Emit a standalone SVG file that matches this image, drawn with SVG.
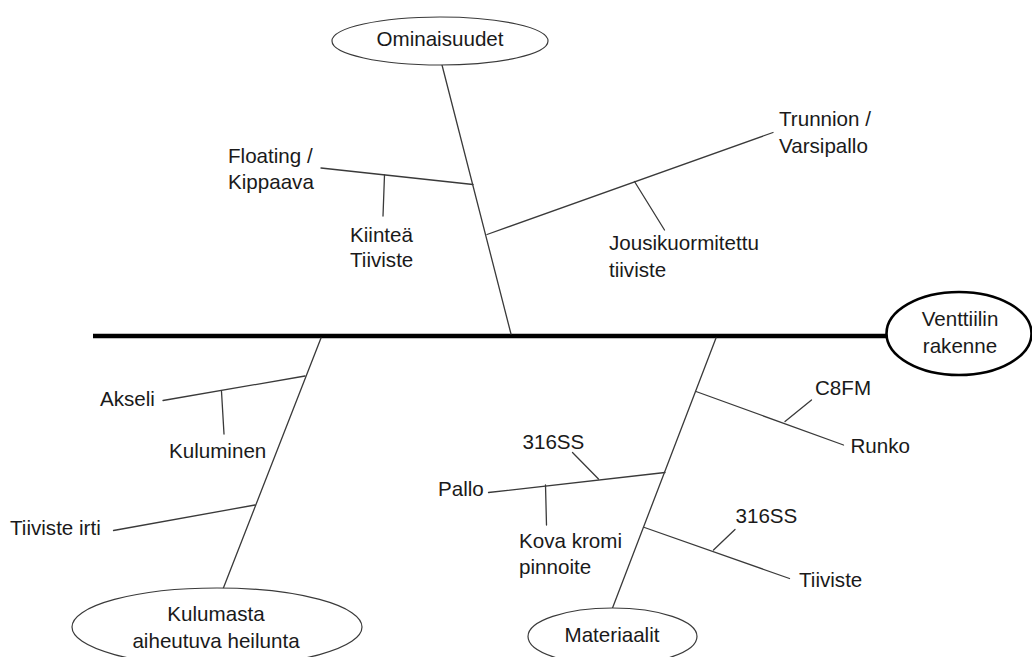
<svg xmlns="http://www.w3.org/2000/svg" width="1032" height="657" viewBox="0 0 1032 657">
<style>
.t{font-family:"Liberation Sans",Arial,sans-serif;font-size:20.6px;fill:#1a1a1a}
.c{text-anchor:middle}
.ln{stroke:#3a3a3a;stroke-width:1.3;fill:none;stroke-linecap:round}
.el{fill:#fff;stroke:#3a3a3a;stroke-width:1.2}
</style>
<rect width="1032" height="657" fill="#fff"/>
<g id="connectors">
<line x1="93" y1="336" x2="888" y2="336" stroke="#000" stroke-width="4.5"/>
<line class="ln" x1="442" y1="65" x2="511" y2="334"/>
<line class="ln" x1="321" y1="168" x2="473" y2="184.5"/>
<line class="ln" x1="384.5" y1="175" x2="383" y2="216"/>
<line class="ln" x1="487" y1="234.5" x2="773" y2="132.5"/>
<line class="ln" x1="634.5" y1="181.5" x2="664.5" y2="230"/>
<line class="ln" x1="321" y1="338" x2="223" y2="589"/>
<line class="ln" x1="163" y1="400.5" x2="305" y2="376"/>
<line class="ln" x1="221.5" y1="391.5" x2="224" y2="434"/>
<line class="ln" x1="113.5" y1="530.5" x2="255" y2="505"/>
<line class="ln" x1="716" y1="338" x2="612.5" y2="608"/>
<line class="ln" x1="696" y1="391.5" x2="843.5" y2="445"/>
<line class="ln" x1="785" y1="421.5" x2="811.5" y2="400"/>
<line class="ln" x1="488.5" y1="492.5" x2="665" y2="472.5"/>
<line class="ln" x1="598.5" y1="479" x2="572.5" y2="452.5"/>
<line class="ln" x1="545.5" y1="485" x2="546.5" y2="525"/>
<line class="ln" x1="644.5" y1="527.5" x2="789.5" y2="578.5"/>
<line class="ln" x1="713.5" y1="550" x2="735" y2="529.5"/>
</g>
<g id="ominaisuudet">
<ellipse class="el" cx="440" cy="41" rx="108" ry="24"/>
<text class="t c" x="440" y="46">Ominaisuudet</text>
</g>
<g id="venttiilin-rakenne">
<ellipse cx="959" cy="333.5" rx="72.5" ry="41.5" fill="#fff" stroke="#000" stroke-width="2.6"/>
<text class="t c" x="960" y="326">Venttiilin</text>
<text class="t c" x="960" y="353">rakenne</text>
</g>
<g id="kulumasta">
<ellipse class="el" cx="217" cy="627" rx="145" ry="39"/>
<text class="t c" x="216" y="621">Kulumasta</text>
<text class="t c" x="216" y="648">aiheutuva heilunta</text>
</g>
<g id="materiaalit">
<ellipse class="el" cx="612.5" cy="636.5" rx="84.5" ry="28.5"/>
<text class="t c" x="612" y="641.5">Materiaalit</text>
</g>
<g id="floating"><text class="t" x="228" y="163">Floating /</text><text class="t" x="228" y="189">Kippaava</text></g>
<g id="kiintea"><text class="t" x="350" y="241.5">Kiinteä</text><text class="t" x="350" y="267">Tiiviste</text></g>
<g id="trunnion"><text class="t" x="779" y="126">Trunnion /</text><text class="t" x="779" y="152.5">Varsipallo</text></g>
<g id="jousikuormitettu"><text class="t" x="609" y="250">Jousikuormitettu</text><text class="t" x="609" y="276.5">tiiviste</text></g>
<g id="akseli"><text class="t" x="100" y="406">Akseli</text></g>
<g id="kuluminen"><text class="t" x="169" y="458">Kuluminen</text></g>
<g id="tiiviste-irti"><text class="t" x="10" y="535">Tiiviste irti</text></g>
<g id="c8fm"><text class="t" x="815" y="395">C8FM</text></g>
<g id="runko"><text class="t" x="850.5" y="453">Runko</text></g>
<g id="ss316-pallo"><text class="t" x="522.5" y="449">316SS</text></g>
<g id="pallo"><text class="t" x="438" y="496">Pallo</text></g>
<g id="kova-kromi"><text class="t" x="519" y="548">Kova kromi</text><text class="t" x="519" y="574">pinnoite</text></g>
<g id="ss316-tiiviste"><text class="t" x="735.5" y="523">316SS</text></g>
<g id="tiiviste"><text class="t" x="799" y="586.5">Tiiviste</text></g>
</svg>
